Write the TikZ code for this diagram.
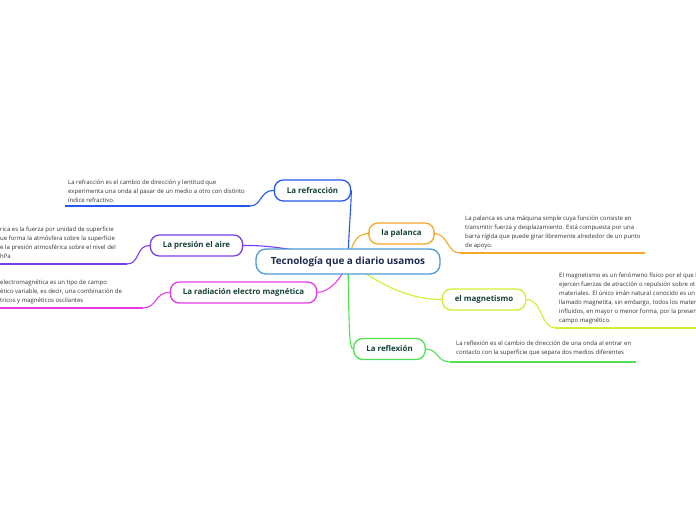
\documentclass[tikz,border=0pt]{standalone}
\usepackage{fontspec}
\setmainfont{Open Sans}
\usetikzlibrary{backgrounds}
\definecolor{cblue}{HTML}{4A9AD8}
\definecolor{ctext}{HTML}{1C2A4F}
\definecolor{ntext}{HTML}{17423A}
\definecolor{dtext}{HTML}{333333}
\definecolor{brefr}{HTML}{2457EE}
\definecolor{bpres}{HTML}{7A3EE8}
\definecolor{brad}{HTML}{E63EE6}
\definecolor{bpal}{HTML}{F5A52A}
\definecolor{bmag}{HTML}{D4EE30}
\definecolor{brefl}{HTML}{52E052}
\tikzset{
  central/.style={draw=cblue, line width=1.3pt, rounded corners=10pt, fill=white,
    text=ctext, font=\bfseries\fontsize{9.9}{11}\selectfont, minimum height=25pt, minimum width=184pt, inner xsep=12pt},
  topic/.style={draw=#1, line width=1.3pt, rounded corners=9pt, fill=white,
    text=ntext, font=\bfseries\fontsize{7.9}{9}\selectfont, minimum height=21pt, inner xsep=12.5pt},
  desc/.style={anchor=north west, inner sep=0pt, align=left, text=dtext,
    font=\fontsize{6}{9}\selectfont},
  link/.style={draw=#1, line width=1.1pt},
  uline/.style={draw=#1, line width=1.6pt}
}
\begin{document}
\begin{tikzpicture}[x=1pt,y=-1pt]
\useasboundingbox (0,0) rectangle (696,520);
% nodes
\node[central] (c) at (348,261.5) {Tecnología que a diario usamos};
\node[topic=brefr] (refr) at (312.5,190.5) {La refracción};
\node[topic=bpres] (pres) at (196.5,245.5) {La presión el aire};
\node[topic=brad] (rad) at (243.5,292.5) {La radiación electro magnética};
\node[topic=bpal] (pal) at (401.5,233.5) {la palanca};
\node[topic=bmag] (mag) at (484,299.5) {el magnetismo};
\node[topic=brefl] (refl) at (389.5,349) {La reflexión};
% descriptions
\node[desc] (trefr) at (68,179.5) {La refracción es el cambio de dirección y lentitud que\\experimenta una onda al pasar de un medio a otro con distinto\\índice refractivo.};
\node[desc] (tpres) at (0,227) {rica es la fuerza por unidad de superficie\\ue forma la atmósfera sobre la superficie\\e la presión atmosférica sobre el nivel del\\hPa};
\node[desc] (trad) at (0,280) {electromagnética es un tipo de campo\\ético variable, es decir, una combinación de\\tricos y magnéticos oscilantes};
\node[desc] (tpal) at (465,215.5) {La palanca es una máquina simple cuya función consiste en\\transmitir fuerza y desplazamiento. Está compuesta por una\\barra rígida que puede girar libremente alrededor de un punto\\de apoyo.};
\node[desc] (tmag) at (559,272.5) {El magnetismo es un fenómeno físico por el que l\\ejercen fuerzas de atracción o repulsión sobre ot\\materiales. El único imán natural conocido es un r\\llamado magnetita, sin embargo, todos los mater\\influidos, en mayor o menor forma, por la presen\\campo magnético.};
\node[desc] (trefl) at (456,341) {La reflexión es el cambio de dirección de una onda al entrar en\\contacto con la superficie que separa dos medios diferentes};
% underline end points
\coordinate (urefr1) at (250,206); \coordinate (urefr2) at (65,206);
\coordinate (upres1) at (127,264); \coordinate (upres2) at (0,264);
\coordinate (urad1) at (143,308); \coordinate (urad2) at (0,308);
\coordinate (upal1) at (460,253); \coordinate (upal2) at (645,253);
\coordinate (umag1) at (555,328); \coordinate (umag2) at (696,328);
\coordinate (urefl1) at (450,362); \coordinate (urefl2) at (636,362);
\begin{scope}[on background layer]
\fill[white] (0,0) rectangle (696,520);
% central links
\draw[link=brefr] (c.center) .. controls (349,225) and (351,210) .. (refr.east);
\draw[link=bpres] (c.center) .. controls (300,250) and (270,245) .. (pres.east);
\draw[link=brad] (c.center) .. controls (342,278) and (330,292) .. (rad.east);
\draw[link=bpal] (c.center) .. controls (352,245) and (355,234) .. (pal.west);
\draw[link=bmag] (c.center) .. controls (385,288) and (410,299) .. (mag.west);
\draw[link=brefl] (c.center) .. controls (349,325) and (349,349) .. (refl.west);
% description links
\draw[link=brefr] (refr.west) .. controls (260,190) and (262,206) .. (urefr1);
\draw[uline=brefr] (urefr1) -- (urefr2);
\draw[link=bpres] (pres.west) .. controls (136,245) and (140,264) .. (upres1);
\draw[uline=bpres] (upres1) -- (upres2);
\draw[link=brad] (rad.west) .. controls (155,292) and (157,308) .. (urad1);
\draw[uline=brad] (urad1) -- (urad2);
\draw[link=bpal] (pal.east) .. controls (448,234) and (447,253) .. (upal1);
\draw[uline=bpal] (upal1) -- (upal2);
\draw[link=bmag] (mag.east) .. controls (542,299) and (541,328) .. (umag1);
\draw[uline=bmag] (umag1) -- (umag2);
\draw[link=brefl] (refl.east) .. controls (438,349) and (437,362) .. (urefl1);
\draw[uline=brefl] (urefl1) -- (urefl2);
\end{scope}
\end{tikzpicture}
\end{document}
